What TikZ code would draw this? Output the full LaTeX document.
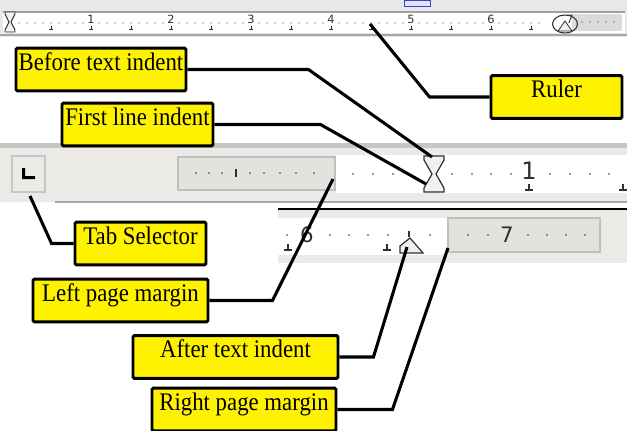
\documentclass[tikz,border=0pt]{standalone}
\usepackage{fontspec}
\setmainfont{Liberation Serif}
\setsansfont{DejaVu Sans}
\newfontfamily\labelfont[FakeStretch=0.9]{Liberation Serif}
\usetikzlibrary{positioning}

\definecolor{barbg}{HTML}{ECEAE6}
\definecolor{barline}{HTML}{A8A8A8}
\definecolor{marginbg}{HTML}{E4E2DE}
\definecolor{markgray}{HTML}{303030}

\tikzset{
  callout/.style={draw, fill=yellow, line width=2.2pt, rounded corners=1pt,
    minimum height=32pt, inner xsep=0pt, inner ysep=2pt,
    text height=13pt, text depth=12pt, font=\labelfont\fontsize{19}{22}\selectfont},
  leader/.style={line width=2.3pt},
  digit/.style={inner sep=0pt, text=markgray, font=\sffamily\fontsize{16}{18}\selectfont},
  tinydigit/.style={inner sep=0pt, text=markgray, font=\sffamily\fontsize{8.5}{9}\selectfont},
  marker/.style={draw=markgray, fill=gray!12, line width=0.9pt},
  tickmark/.style={draw=markgray, line width=0.8pt},
}

\begin{document}
\begin{tikzpicture}[x=0.75pt, y=-0.75pt, on grid]
\useasboundingbox (0,0) rectangle (627,430);

% top ruler
\fill[gray!18] (0,0) rectangle (627,37);
\fill[white] (3,12) rectangle (625,33);
\draw[gray!75, line width=1pt] (3,12) -- (625,12);
\draw[gray!70, line width=1.5pt] (0,34.5) -- (627,34.5);
\draw[blue!50!gray, fill=blue!12] (404,0) rectangle (430,6.5);
\draw[marker, line width=0.7pt] (5,12) -- (15,12) -- (15,14) -- (11,22) -- (15,30) -- (15,32)
  -- (5,32) -- (5,30) -- (9,22) -- (5,14) -- cycle;
\foreach \n in {1,...,6}
  \node[tinydigit] at ({11+80*\n},19.5) {\n};
\foreach \i in {0,...,12}
  \draw[tickmark, line width=0.6pt] ({51+40*\i},26) -- ({51+40*\i},29) ({49+40*\i},29) -- ({53+40*\i},29);
\foreach \k in {0,...,65} {
  \pgfmathtruncatemacro\r{mod(\k,10)}
  \ifnum\r=9 \else \fill[markgray] ({19+8*\k},23) circle (0.7); \fi
}
\fill[gray!28] (572,14) rectangle (622,31);
\foreach \x in {582,590,...,618}
  \fill[markgray] (\x,22) circle (0.7);
\draw[markgray, line width=0.8pt] (565,24) ellipse (12.5 and 9);
\draw[marker, line width=0.6pt] (558,31) -- (572,31) -- (565,21) -- cycle;
\node[tinydigit] at (570,19) {7};

% middle ruler
\fill[gray!45] (0,142.5) rectangle (627,148);
\fill[barbg] (0,148) rectangle (627,202);
\draw[barline, line width=1.5pt] (55,201.5) -- (627,201.5);
\draw[gray!45, fill=barbg, line width=0.8pt] (12,156) rectangle (45,192);
\fill[black] (22,168) rectangle (25,179) (22,176) rectangle (35,179);
\draw[gray!50, fill=marginbg, line width=1.2pt] (178,157) rectangle (335,190);
\fill[white] (336,155) rectangle (627,193);
\foreach \x in {196,209,222,250,264,280,296,314}
  \fill[markgray] (\x,173) circle (0.9);
\draw[tickmark] (236,169) -- (236,177);
\foreach \x in {353,373,393,452,472,491,511,550,570,590,609}
  \fill[markgray] (\x,174) circle (0.9);
\node[digit, font=\sffamily\fontsize{18}{20}\selectfont] at (529,171) {1};
\draw[tickmark] (529,184) -- (529,190) (525,190) -- (533,190);
\draw[tickmark] (623,184) -- (623,190) (619,190) -- (627,190);
\draw[marker] (424,156) -- (444,156) -- (444,160) -- (436,174) -- (444,188) -- (444,192)
  -- (424,192) -- (424,188) -- (432,174) -- (424,160) -- cycle;

% lower ruler
\fill[barbg] (278,209) rectangle (627,263);
\draw[black, line width=1.5pt] (278,209) -- (627,209);
\fill[white] (278,218) rectangle (448,255);
\draw[gray!50, fill=marginbg, line width=1.2pt] (448,218) rectangle (600,252);
\foreach \x in {287,330,349,368,388,430,468,488,528,547,566,585}
  \fill[markgray] (\x,235) circle (0.9);
\node[digit] at (307,235) {6};
\node[digit] at (507,235) {7};
\draw[tickmark] (288,244) -- (288,250) (284,250) -- (292,250);
\draw[tickmark] (387,244) -- (387,250) (383,250) -- (391,250);
\draw[tickmark] (409,231) -- (409,237);
\draw[marker] (400,253) -- (400,246) -- (410,238) -- (423,253) -- cycle;

% points the callouts refer to
\coordinate (rulerpt) at (370,24);
\coordinate (beforept) at (432,157);
\coordinate (firstpt) at (426,184);
\coordinate (tabpt) at (30,196);
\coordinate (leftpt) at (333,179);
\coordinate (afterpt) at (407,247);
\coordinate (rightpt) at (448,248);

% callouts
\node[callout, minimum width=127.5pt] (before) at (101,69.5) {Before text indent};
\node[callout, minimum width=113.25pt] (first) [below right=41.25pt and 27.375pt of before] {First line indent};
\node[callout, minimum width=98.25pt] (ruler) at (556.5,97) {Ruler};
\node[callout, minimum width=98.25pt] (tab) at (140.5,243.5) {Tab Selector};
\node[callout, minimum width=131.25pt] (leftm) [below left=42.75pt and 15pt of tab] {Left page margin};
\node[callout, minimum width=153.75pt] (after) [below right=42.375pt and 86.25pt of leftm] {After text indent};
\node[callout, minimum width=138pt] (rightm) [below right=39.375pt and 6.375pt of after] {Right page margin};

\draw[leader] (ruler.west) -- ++(-60,0) -- (rulerpt);
\draw[leader] (before.east) -- ++(121,0) -- (beforept);
\draw[leader] (first.east) -- ++(106,0) -- (firstpt);
\draw[leader] (tab.west) -- ++(-22,0) -- (tabpt);
\draw[leader] (leftm.east) -- ++(63,0) -- (leftpt);
\draw[leader] (after.east) -- ++(34,0) -- (afterpt);
\draw[leader] (rightm.east) -- ++(55,0) -- (rightpt);
\end{tikzpicture}
\end{document}
